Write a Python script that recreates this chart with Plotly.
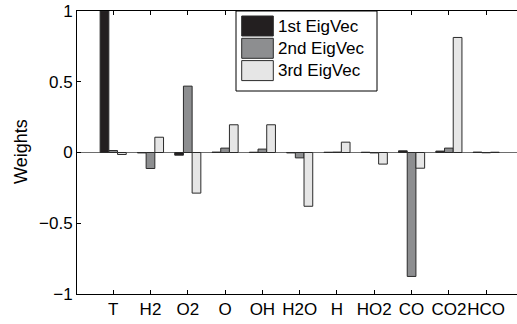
import plotly.graph_objects as go

categories = ["T", "H2", "O2", "O", "OH", "H2O", "H", "HO2", "CO", "CO2", "HCO"]
eig1 = [1.0, -0.003, -0.019, 0.003, 0.002, -0.003, 0.002, 0.002, 0.012, 0.010, 0.003]
eig2 = [0.014, -0.113, 0.469, 0.031, 0.024, -0.038, 0.003, -0.003, -0.876, 0.031, -0.002]
eig3 = [-0.014, 0.108, -0.287, 0.196, 0.196, -0.380, 0.073, -0.082, -0.111, 0.813, 0.002]
series_names = ["1st EigVec", "2nd EigVec", "3rd EigVec"]
series_colors = ["#231f20", "#8d8e90", "#e6e6e6"]
y_title = "Weights"

xpos = list(range(1, len(categories) + 1))

W, H = 517, 324
ML, MR, MT, MB = 77, 0, 11, 30
PW, PH = W - ML - MR, H - MT - MB

def px(x):
    return (x - ML) / PW

def py(y):
    return (H - MB - y) / PH

fig = go.Figure()
for name, vals, col in zip(series_names, [eig1, eig2, eig3], series_colors):
    fig.add_trace(go.Bar(
        x=xpos, y=vals, name=name, showlegend=False,
        marker=dict(color=col, line=dict(color="#2a2a2a", width=1)),
    ))

font_family = "Liberation Sans, Arial, Helvetica, sans-serif"
FS = 17

# legend box (drawn as layout decoration, linked to series lists)
shapes = [dict(type="rect", xref="paper", yref="paper",
               x0=px(236), x1=px(377), y0=py(91), y1=py(11),
               line=dict(color="black", width=1), fillcolor="white", layer="above")]
annotations = []
row_top = 16
row_h = 22.3
sw_h = 20
for i, (name, col) in enumerate(zip(series_names, series_colors)):
    t = row_top + i * row_h
    shapes.append(dict(type="rect", xref="paper", yref="paper",
                       x0=px(241.7), x1=px(273.3), y0=py(t + sw_h), y1=py(t),
                       line=dict(color="#2a2a2a", width=1), fillcolor=col, layer="above"))
    annotations.append(dict(xref="paper", yref="paper", x=px(276), y=py(t + sw_h / 2),
                            xanchor="left", yanchor="middle", text=name, showarrow=False,
                            font=dict(size=FS, family=font_family, color="black")))

# y-axis title
annotations.append(dict(xref="paper", yref="paper", x=px(21), y=py(152),
                        xanchor="center", yanchor="middle", text=y_title, textangle=-90,
                        showarrow=False, font=dict(size=18, family=font_family, color="black")))

fig.update_layout(
    width=W, height=H,
    margin=dict(l=ML, r=MR, t=MT, b=MB),
    paper_bgcolor="white", plot_bgcolor="white",
    barmode="group", bargap=0.3, bargroupgap=0,
    font=dict(family=font_family, size=FS, color="black"),
    showlegend=False,
    shapes=shapes, annotations=annotations,
    xaxis=dict(
        range=[0.03, 0.03 + PW / 37.3],
        tickmode="array", tickvals=xpos, ticktext=categories,
        tickangle=0, automargin=False,
        ticks="inside", ticklen=4, tickcolor="black",
        showline=True, linecolor="black", linewidth=1, mirror="ticks",
        showgrid=False, zeroline=False,
        tickfont=dict(size=FS),
    ),
    yaxis=dict(
        range=[-1, 1], tickvals=[-1, -0.5, 0, 0.5, 1],
        ticktext=["\u22121", "\u22120.5", "0", "0.5", "1"],
        automargin=False,
        ticks="inside", ticklen=4, tickcolor="black",
        showline=True, linecolor="black", linewidth=1, mirror=False,
        showgrid=False, zeroline=True, zerolinecolor="#6e6e6e", zerolinewidth=1,
        tickfont=dict(size=FS),
    ),
)

fig.write_html("out.html")
